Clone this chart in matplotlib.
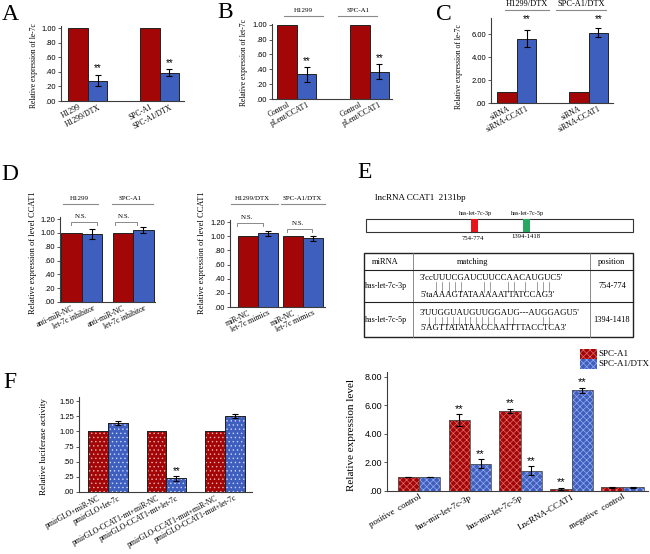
import numpy as np
import matplotlib
matplotlib.use("Agg")
import matplotlib.pyplot as plt
from matplotlib.patches import Rectangle
from matplotlib.textpath import TextToPath
from matplotlib.font_manager import FontProperties

# ---------------- data ----------------
A_labels = ['H1299', 'H1299/DTX', 'SPC-A1', 'SPC-A1/DTX']
A_red = [1.0, 1.0]
A_blue = [0.28, 0.39]
A_blue_err = [0.08, 0.045]
A_yticks = [0.0, 0.2, 0.4, 0.6, 0.8, 1.0]
A_yticklabels = ['.00', '.20', '.40', '.60', '.80', '1.00']

B_labels = ['Control', 'pLent/CCAT1', 'Control', 'pLent/CCAT1']
B_groups = ['H1299', 'SPC-A1']
B_red = [1.0, 1.0]
B_blue = [0.33, 0.37]
B_blue_err = [0.10, 0.10]

C_labels = ['siRNA', 'siRNA-CCAT1', 'siRNA', 'siRNA-CCAT1']
C_groups = ['H1299/DTX', 'SPC-A1/DTX']
C_red = [1.0, 1.0]
C_blue = [5.6, 6.12]
C_blue_err = [0.73, 0.38]
C_yticks = [0, 2, 4, 6]
C_yticklabels = ['.00', '2.00', '4.00', '6.00']

D1_labels = ['anti-miR-NC', 'let-7c inhibitor', 'anti-miR-NC', 'let-7c inhibitor']
D1_groups = ['H1299', 'SPC-A1']
D1_red = [1.0, 1.0]
D1_blue = [0.98, 1.045]
D1_blue_err = [0.07, 0.045]

D2_labels = ['miR-NC', 'let-7c mimics', 'miR-NC', 'let-7c mimics']
D2_groups = ['H1299/DTX', 'SPC-A1/DTX']
D2_red = [1.0, 1.0]
D2_blue = [1.04, 0.975]
D2_blue_err = [0.035, 0.035]
D_yticks = [0.0, 0.2, 0.4, 0.6, 0.8, 1.0, 1.2]
D_yticklabels = ['.00', '.20', '.40', '.60', '.80', '1.00', '1.20']

F1_labels = ['pmirGLO+miR-NC', 'pmirGLO+let-7c', 'pmirGLO-CCAT1-mt+miR-NC',
             'pmirGLO-CCAT1-mt+let-7c', 'pmirGLO-CCAT1-mut+miR-NC',
             'pmirGLO-CCAT1-mut+let-7c']
F1_red = [1.0, 1.0, 1.0]
F1_blue = [1.14, 0.23, 1.26]
F1_blue_err = [0.04, 0.04, 0.03]
F1_yticks = [0, 0.25, 0.5, 0.75, 1.0, 1.25, 1.5]
F1_yticklabels = ['.00', '.25', '.50', '.75', '1.00', '1.25', '1.50']

F2_categories = ['positive  control', 'has-mir-let-7c-3p', 'has-mir-let-7c-5p',
                 'LncRNA-CCAT1', 'megative  control']
F2_series = ['SPC-A1', 'SPC-A1/DTX']
F2_red = [1.0, 4.97, 5.62, 0.16, 0.27]
F2_red_err = [0.0, 0.40, 0.14, 0.06, 0.04]
F2_blue = [1.0, 1.92, 1.42, 7.08, 0.25]
F2_blue_err = [0.0, 0.30, 0.30, 0.18, 0.05]
F2_red_sig = [False, True, True, True, False]
F2_blue_sig = [False, True, True, True, False]
F2_yticks = [0, 2, 4, 6, 8]
F2_yticklabels = ['.00', '2.00', '4.00', '6.00', '8.00']

E_rows = ['has-let-7c-3p', 'has-let-7c-5p']
E_top_seq = ["3'ccUUUCGAUCUUCCAACAUGUC5'", "3'UUGGUAUGUUGGAUG---AUGGAGU5'"]
E_bot_seq = ["5'taAAAGTATAAAAATTATCCAG3'", "5'AGTTATATAACCAATTTTACCTCA3'"]
E_positions = ['754-774', '1394-1418']

# ---------------- style ----------------
RED = '#a30606'
BLUE = '#3f5fbe'
SERIF = 'Liberation Serif'
SANS = 'Liberation Sans'
SPINE = '#3c3c3c'
W, H = 650, 554
plt.rcParams['hatch.linewidth'] = 0.5

fig = plt.figure(figsize=(6.5, 5.54), dpi=100)

# overlay axes in pixel coordinates for annotations
ov = fig.add_axes([0, 0, 1, 1], zorder=5)
ov.set_xlim(0, W)
ov.set_ylim(H, 0)
ov.axis('off')
ov.patch.set_alpha(0)


def mkax(l, t, r, b):
    ax = fig.add_axes([l / W, 1 - b / H, (r - l) / W, (b - t) / H])
    ax.patch.set_alpha(0)
    for s in ['top', 'right']:
        ax.spines[s].set_visible(False)
    for s in ['left', 'bottom']:
        ax.spines[s].set_color(SPINE)
        ax.spines[s].set_linewidth(0.8)
    ax.tick_params(axis='x', length=0, pad=1.5)
    ax.tick_params(axis='y', length=2.5, width=0.6, pad=1, color=SPINE)
    return ax


def paired(ax, red, blue, blue_err, gap, xlim, ylim, yt, ytl, labels,
           ytfs=5.5, xfs=5.5, rot=28, starfs=7, red_err=None, hatch=None,
           lw=0.7, width=1.0, hcolors=('#ffffff', '#d9e2ff')):
    n = len(red)
    centers = np.arange(n) * gap
    xr = centers - width / 2
    xb = centers + width / 2
    ax.bar(xr, red, width=width, color=RED, edgecolor='#222222', linewidth=lw, zorder=2)
    ax.bar(xb, blue, width=width, color=BLUE, edgecolor='#222222', linewidth=lw, zorder=2)
    if hatch:
        ax.bar(xr, red, width=width, facecolor='none', edgecolor=hcolors[0],
               linewidth=0, hatch=hatch, zorder=3)
        ax.bar(xb, blue, width=width, facecolor='none', edgecolor=hcolors[1],
               linewidth=0, hatch=hatch, zorder=3)
        ax.bar(xr, red, width=width, facecolor='none', edgecolor='#222222', linewidth=lw, zorder=4)
        ax.bar(xb, blue, width=width, facecolor='none', edgecolor='#222222', linewidth=lw, zorder=4)
    ax.errorbar(xb, blue, yerr=blue_err, fmt='none', ecolor='black',
                elinewidth=0.8, capsize=2, capthick=0.8, zorder=5)
    if red_err is not None:
        ax.errorbar(xr, red, yerr=red_err, fmt='none', ecolor='black',
                    elinewidth=0.8, capsize=2, capthick=0.8, zorder=5)
    ax.set_xlim(*xlim)
    ax.set_ylim(*ylim)
    ax.set_yticks(yt, ytl, fontsize=ytfs, family=SANS)
    ticks = np.ravel(np.column_stack([xr, xb]))
    ax.set_xticks(ticks, labels, rotation=rot, ha='right', rotation_mode='anchor',
                  fontsize=xfs, family=SERIF)
    return xr, xb


def stars(ax, xs, tops, dy, fs=7):
    for x, t in zip(xs, tops):
        ax.text(x, t + dy, '**', ha='center', va='bottom', fontsize=fs,
                family=SANS, zorder=6)


def letter(x, y, s):
    ov.text(x, y, s, fontsize=17, family=SERIF, ha='center', va='center')


def ylab(x, y, s, fs):
    ov.text(x, y, s, rotation=90, fontsize=fs, family=SERIF, ha='center', va='center')


def grouplab(x, y, s, x0, x1, ly, fs=5):
    ov.text(x, y, s, fontsize=fs, family=SERIF, ha='center', va='center')
    ov.plot([x0, x1], [ly, ly], color='#8a8a8a', lw=0.8)


def ns(x, y, x0, x1, by):
    ov.text(x, y, 'N.S.', fontsize=5, family=SERIF, ha='center', va='bottom')
    ov.plot([x0, x0, x1, x1], [by + 3, by, by, by + 3], color='#8a8a8a', lw=0.7)


# ---------------- A ----------------
axA = mkax(61, 26, 184, 101)
_, xb = paired(axA, A_red, A_blue, A_blue_err, 3.67, (-1.38, 4.92), (0, 1.03),
               A_yticks, A_yticklabels, A_labels)
stars(axA, xb, np.add(A_blue, A_blue_err), 0.02)
letter(10, 15, 'A')
ylab(34, 66, 'Relative expression of le-7c', 5.5)

# ---------------- B ----------------
axB = mkax(272, 24, 392, 99)
_, xb = paired(axB, B_red, B_blue, B_blue_err, 3.72, (-1.28, 4.87), (0, 1.01),
               A_yticks, A_yticklabels, B_labels)
stars(axB, xb, np.add(B_blue, B_blue_err), 0.02)
letter(225, 13, 'B')
ylab(244, 62, 'Relative expression of let-7c', 5.5)
grouplab(303, 10, B_groups[0], 284, 323, 16)
grouplab(358, 10, B_groups[1], 338, 377, 16)

# ---------------- C ----------------
axC = mkax(491, 18, 613, 103)
_, xb = paired(axC, C_red, C_blue, C_blue_err, 3.67, (-1.33, 4.92), (0, 7.4),
               C_yticks, C_yticklabels, C_labels)
stars(axC, xb, [7.0, 7.0], -0.15)
letter(444, 15, 'C')
ylab(459, 67, 'Relative expression of le-7c', 5.5)
grouplab(527, 4, C_groups[0], 505, 549, 10, fs=6)
grouplab(581, 4, C_groups[1], 556, 606, 10, fs=6)

# ---------------- D ----------------
axD1 = mkax(60, 217, 155, 302)
paired(axD1, D1_red, D1_blue, D1_blue_err, 2.49, (-1.07, 3.56), (0, 1.23),
       D_yticks, D_yticklabels, D1_labels, rot=25)
axD2 = mkax(230, 220, 325, 307)
paired(axD2, D2_red, D2_blue, D2_blue_err, 2.25, (-1.4, 3.35), (0, 1.23),
       D_yticks, D_yticklabels, D2_labels, rot=25)
letter(10, 175, 'D')
ylab(33, 253, 'Relative expression of level CCAT1', 6)
ylab(202, 253, 'Relative expression of level CCAT1', 6)
grouplab(79, 198, D1_groups[0], 63, 98, 204)
grouplab(130, 198, D1_groups[1], 112, 153, 204)
grouplab(252, 198, D2_groups[0], 231, 278, 204)
grouplab(302, 198, D2_groups[1], 281, 325, 204)
ns(81, 219, 71, 97, 222)
ns(124, 219, 115, 137, 222)
ns(247, 220, 237, 263, 223)
ns(298, 226, 287, 312, 229)

# ---------------- E ----------------
letter(365, 173, 'E')
ov.text(375, 198, 'lncRNA CCAT1  2131bp', fontsize=6.5, family=SERIF, va='center', ha='left')
ov.add_patch(Rectangle((366, 219), 267, 13, facecolor='white', edgecolor='#333333', lw=0.8))
ov.add_patch(Rectangle((471, 219), 6.5, 13, facecolor='#e8141c', edgecolor='none'))
ov.add_patch(Rectangle((523, 219), 6.5, 13, facecolor='#28a860', edgecolor='none'))
ov.text(475, 213, 'has-let-7c-3p', fontsize=4.5, family=SERIF, ha='center', va='center')
ov.text(527, 213, 'has-let-7c-5p', fontsize=4.5, family=SERIF, ha='center', va='center')
ov.text(473, 238, E_positions[0], fontsize=4.8, family=SERIF, ha='center', va='center')
ov.text(526, 237, E_positions[1], fontsize=4.8, family=SERIF, ha='center', va='center')

# table
tl, tr, tt, tb = 364, 633, 253, 337
ov.add_patch(Rectangle((tl, tt), tr - tl, tb - tt, facecolor='none', edgecolor='#222222', lw=1.0))
for xx in (413, 590):
    ov.plot([xx, xx], [tt, tb], color='#777777', lw=0.6)
for yy in (270, 302):
    ov.plot([tl, tr], [yy, yy], color='#222222', lw=0.8)
ov.text(372, 262, 'miRNA', fontsize=6, family=SERIF, va='center', ha='left')
ov.text(473, 262, 'matching', fontsize=6, family=SERIF, va='center', ha='center')
ov.text(612, 262, 'position', fontsize=6, family=SERIF, va='center', ha='center')

seq_fs = 6.3
fp = FontProperties(family=SERIF, size=seq_fs)
t2p = TextToPath()
pair_ok = {('U', 'A'), ('A', 'T'), ('C', 'G'), ('G', 'C'), ('U', 'G'), ('G', 'T')}


def xpos(s, i):
    w0 = t2p.get_text_width_height_descent(s[:i], fp, ismath=False)[0] if i > 0 else 0
    w1 = t2p.get_text_width_height_descent(s[:i + 1], fp, ismath=False)[0]
    return (w0 + w1) / 2 * 100 / 72


row_y = [(278, 295, 286), (313, 328, 320)]
for k in range(2):
    yt_, yb_, ym = row_y[k]
    ov.text(365, ym, E_rows[k], fontsize=5.8, family=SERIF, va='center', ha='left')
    ov.text(612, ym, E_positions[k], fontsize=6, family=SERIF, va='center', ha='center')
    sx = 420
    ov.text(sx, yt_, E_top_seq[k], fontsize=seq_fs, family=SERIF, va='center', ha='left')
    ov.text(sx, yb_, E_bot_seq[k], fontsize=seq_fs, family=SERIF, va='center', ha='left')
    top, bot = E_top_seq[k], E_bot_seq[k]
    for i in range(2, min(len(top), len(bot)) - 2):
        if (top[i].upper(), bot[i].upper()) in pair_ok:
            xm = sx + (xpos(top, i) + xpos(bot, i)) / 2
            ov.plot([xm, xm], [yt_ + 3.5, yb_ - 3.5], color='#777777', lw=0.5)

# ---------------- F left ----------------
axF1 = mkax(79, 397, 252, 492)
_, xb = paired(axF1, F1_red, F1_blue, F1_blue_err, 2.97, (-1.47, 7.31), (0, 1.57),
               F1_yticks, F1_yticklabels, F1_labels, rot=28, hatch='....',
               hcolors=('#f0b0b0', '#c8d4ff'))
stars(axF1, [xb[1]], [F1_blue[1] + F1_blue_err[1]], 0.0)
letter(10, 383, 'F')
ylab(44, 447, 'Relative luciferase activity', 6.5)

# ---------------- F right ----------------
axF2 = mkax(387, 372, 648, 491)
n2 = len(F2_red)
gap2 = 2.39
cent = np.arange(n2) * gap2
xr2, xb2 = cent - 0.5, cent + 0.5
for xs, vals, col, hc in ((xr2, F2_red, RED, '#e06a6a'), (xb2, F2_blue, BLUE, '#98aef0')):
    axF2.bar(xs, vals, width=1.0, color=col, edgecolor='none', zorder=2)
    axF2.bar(xs, vals, width=1.0, facecolor='none', edgecolor=hc, linewidth=0,
             hatch='xxxxx', zorder=3)
    axF2.bar(xs, vals, width=1.0, facecolor='none', edgecolor='#555555', linewidth=0.6, zorder=4)
axF2.errorbar(xr2, F2_red, yerr=F2_red_err, fmt='none', ecolor='black',
              elinewidth=0.8, capsize=2, capthick=0.8, zorder=5)
axF2.errorbar(xb2, F2_blue, yerr=F2_blue_err, fmt='none', ecolor='black',
              elinewidth=0.8, capsize=2, capthick=0.8, zorder=5)
axF2.set_xlim(-1.5, 10.75)
axF2.set_ylim(0, 8.35)
axF2.set_yticks(F2_yticks, F2_yticklabels, fontsize=6.5, family=SANS)
axF2.set_xticks(cent, F2_categories, rotation=30, ha='right', rotation_mode='anchor',
                fontsize=6.5, family=SERIF)
for xs, vals, errs, sig in ((xr2, F2_red, F2_red_err, F2_red_sig),
                            (xb2, F2_blue, F2_blue_err, F2_blue_sig)):
    for x, v, e, s in zip(xs, vals, errs, sig):
        if s:
            axF2.text(x, v + e + 0.05, '**', ha='center', va='bottom', fontsize=8,
                      family=SANS, zorder=6)
ylab(352, 435, 'Relative expression level', 8)

# legend
for k, (col, hc) in enumerate(((RED, '#e06a6a'), (BLUE, '#98aef0'))):
    y0 = 349 + k * 10
    ov.add_patch(Rectangle((580, y0), 17, 10, facecolor=col, edgecolor='none'))
    ov.add_patch(Rectangle((580, y0), 17, 10, facecolor='none', edgecolor=hc, lw=0, hatch='xxxxx'))
    ov.text(598, y0 + 5, F2_series[k], fontsize=6.5, family=SERIF, va='center', ha='left')

fig.savefig('out.png', dpi=100)
